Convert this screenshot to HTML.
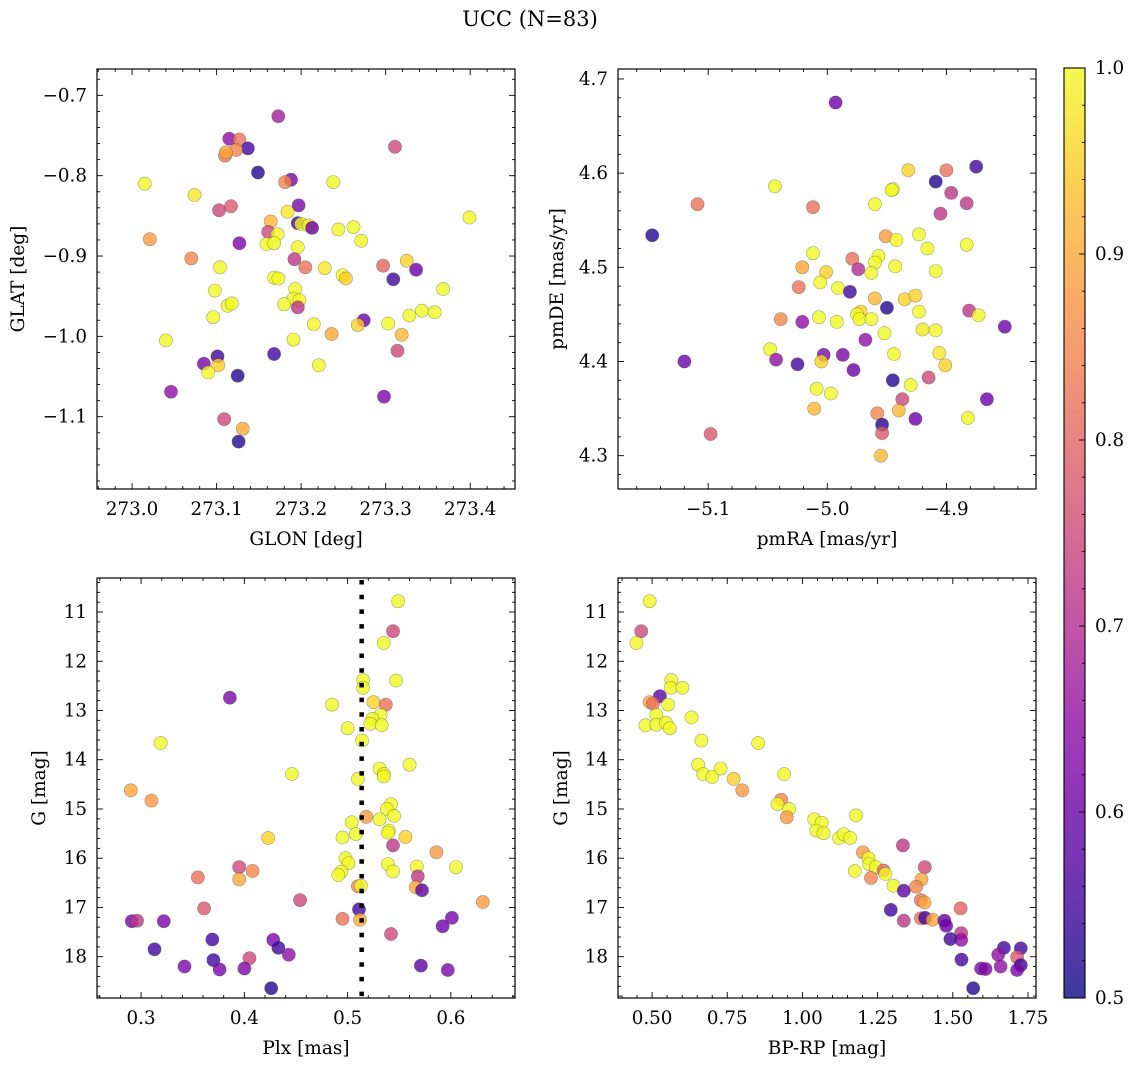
<!DOCTYPE html>
<html><head><meta charset="utf-8"><style>
html,body{margin:0;padding:0;background:#fff;}
svg text{font-family:"DejaVu Serif","Liberation Serif",serif;fill:#000;}
</style></head><body>
<svg id="fig" width="1136" height="1067" xmlns="http://www.w3.org/2000/svg">
<text x="530" y="26" font-size="21" text-anchor="middle">UCC (N=83)</text>
</svg>
<script>
// ---- Panel 1 data: GLON / GLAT / membership prob
const p1Glon=[273.173,273.115,273.127,273.137,273.123,273.110,273.111,273.311,273.149,273.015,273.188,273.181,273.238,273.074,273.197,273.103,273.117,273.184,273.399,273.164,273.196,273.200,273.209,273.213,273.244,273.262,273.161,273.172,273.271,273.159,273.168,273.196,273.127,273.021,273.070,273.192,273.205,273.104,273.228,273.297,273.325,273.336,273.249,273.253,273.168,273.173,273.309,273.368,273.098,273.193,273.191,273.198,273.196,273.180,273.113,273.118,273.096,273.328,273.343,273.358,273.215,273.274,273.267,273.303,273.236,273.319,273.040,273.191,273.314,273.168,273.101,273.085,273.102,273.090,273.221,273.125,273.046,273.298,273.109,273.131,273.126];
const p1Glat=[-0.726,-0.754,-0.755,-0.766,-0.768,-0.775,-0.771,-0.764,-0.796,-0.810,-0.805,-0.808,-0.808,-0.824,-0.837,-0.843,-0.838,-0.845,-0.852,-0.857,-0.859,-0.860,-0.862,-0.865,-0.867,-0.864,-0.870,-0.873,-0.881,-0.885,-0.884,-0.889,-0.884,-0.879,-0.903,-0.904,-0.914,-0.914,-0.915,-0.912,-0.906,-0.917,-0.924,-0.928,-0.927,-0.928,-0.929,-0.941,-0.943,-0.941,-0.953,-0.955,-0.964,-0.960,-0.962,-0.959,-0.976,-0.974,-0.968,-0.970,-0.985,-0.980,-0.986,-0.984,-0.997,-0.998,-1.005,-1.004,-1.018,-1.022,-1.025,-1.034,-1.036,-1.045,-1.036,-1.049,-1.069,-1.075,-1.103,-1.115,-1.131];
const p1Prob=[.68,.65,.82,.55,.85,.82,.9,.75,.52,1,.62,.85,1,.98,.62,.75,.78,.98,1,.92,.55,1,.98,.6,1,1,.75,1,1,1,1,1,.62,.88,.85,.72,.82,1,.98,.8,.95,.6,1,.95,1,1,.55,1,1,1,1,1,.72,1,1,1,1,1,1,1,1,.6,.95,1,.9,.92,1,1,.75,.55,.55,.62,.95,1,1,.52,.65,.62,.75,.9,.52];
// ---- Panel 2 data: pmRA / pmDE
const p2PmRA=[-4.993,-4.875,-4.900,-4.932,-4.909,-4.896,-4.883,-4.905,-4.945,-4.946,-5.044,-5.109,-5.012,-4.960,-5.147,-4.951,-4.942,-4.923,-4.916,-4.883,-5.012,-4.957,-4.960,-4.979,-5.021,-5.001,-4.974,-4.963,-4.943,-4.909,-5.006,-5.024,-4.991,-4.981,-4.960,-4.935,-4.926,-4.950,-4.923,-4.881,-4.873,-4.851,-4.972,-4.975,-4.973,-4.963,-5.007,-4.992,-5.039,-5.021,-4.952,-4.920,-4.909,-4.968,-5.048,-5.043,-5.120,-5.025,-5.003,-5.005,-4.987,-4.978,-4.944,-4.906,-4.901,-4.945,-4.930,-4.915,-5.009,-4.997,-4.937,-4.866,-5.011,-4.958,-4.940,-4.926,-4.882,-4.954,-4.954,-5.098,-4.955];
const p2PmDE=[4.675,4.607,4.603,4.603,4.591,4.579,4.568,4.557,4.583,4.582,4.586,4.567,4.564,4.567,4.534,4.533,4.529,4.535,4.520,4.524,4.515,4.512,4.505,4.509,4.500,4.495,4.498,4.494,4.501,4.496,4.484,4.479,4.478,4.474,4.467,4.466,4.470,4.457,4.453,4.454,4.449,4.437,4.453,4.450,4.445,4.445,4.447,4.442,4.445,4.442,4.430,4.434,4.433,4.423,4.413,4.402,4.400,4.397,4.407,4.400,4.407,4.391,4.408,4.409,4.396,4.380,4.375,4.383,4.371,4.366,4.360,4.360,4.350,4.345,4.348,4.339,4.340,4.333,4.324,4.323,4.300];
const p2Prob=[.6,.55,.82,.95,.52,.72,.72,.72,1,1,1,.82,.82,1,.52,.88,1,1,1,1,1,1,1,.82,.9,.95,.7,1,1,1,1,.82,1,.55,.92,.95,.95,.52,1,.72,1,.6,.95,1,1,1,1,1,.85,.65,1,.98,1,.65,1,.65,.6,.55,.62,.95,.62,.6,1,.98,.95,.52,1,.75,1,1,.75,.6,.92,.85,.92,.6,1,.52,.78,.78,.92];
// ---- Panel 3 data: Plx / G
const p3Plx=[0.549,0.544,0.535,0.515,0.515,0.547,0.386,0.485,0.525,0.537,0.532,0.524,0.522,0.533,0.500,0.514,0.319,0.560,0.531,0.535,0.535,0.446,0.510,0.290,0.310,0.542,0.538,0.545,0.531,0.518,0.504,0.540,0.539,0.556,0.508,0.495,0.423,0.544,0.586,0.498,0.501,0.539,0.544,0.567,0.605,0.395,0.408,0.395,0.355,0.494,0.491,0.568,0.566,0.572,0.510,0.513,0.631,0.454,0.361,0.511,0.495,0.512,0.291,0.296,0.322,0.601,0.592,0.542,0.369,0.428,0.433,0.443,0.313,0.370,0.405,0.342,0.376,0.400,0.571,0.597,0.426];
const p3G=[10.78,11.39,11.63,12.38,12.54,12.39,12.74,12.88,12.83,12.88,13.09,13.17,13.27,13.30,13.36,13.61,13.66,14.10,14.18,14.29,14.34,14.29,14.39,14.62,14.83,14.90,15.00,15.14,15.21,15.16,15.27,15.44,15.48,15.57,15.51,15.58,15.59,15.74,15.88,16.00,16.10,16.12,16.27,16.17,16.18,16.18,16.26,16.43,16.39,16.27,16.34,16.37,16.59,16.65,16.57,16.56,16.89,16.85,17.02,17.04,17.23,17.25,17.28,17.27,17.28,17.21,17.38,17.54,17.65,17.66,17.82,17.96,17.85,18.07,18.03,18.20,18.26,18.24,18.18,18.27,18.64];
const p3Prob=[1,.75,1,1,1,1,.62,1,.95,.82,1,1,1,1,1,1,1,1,1,1,1,1,1,.9,.88,1,1,1,1,.88,1,1,1,.95,1,1,.95,.72,.88,1,1,1,1,1,1,.75,.85,.9,.82,1,1,.72,.9,.58,.85,1,.88,.75,.78,.55,.82,.9,.62,.72,.62,.62,.6,.75,.55,.62,.55,.65,.55,.55,.75,.62,.62,.62,.58,.62,.52];
const p3PlxLine=0.5136;
// ---- Panel 4 data: BP-RP / G
const p4BpRp=[0.492,0.464,0.448,0.564,0.562,0.601,0.526,0.492,0.503,0.553,0.514,0.478,0.514,0.546,0.559,0.631,0.664,0.853,0.653,0.670,0.700,0.728,0.771,0.800,0.939,0.929,0.917,0.956,0.948,1.178,1.039,1.064,1.046,1.070,1.122,1.137,1.159,1.334,1.201,1.220,1.222,1.244,1.407,1.174,1.270,1.276,1.228,1.396,1.378,1.303,1.337,1.394,1.406,1.526,1.294,1.337,1.394,1.408,1.433,1.472,1.478,1.528,1.528,1.492,1.529,1.670,1.651,1.726,1.714,1.726,1.659,1.594,1.609,1.714,1.568];
const p4G=[10.78,11.39,11.63,12.38,12.54,12.54,12.71,12.83,12.86,12.88,13.09,13.30,13.29,13.25,13.36,13.14,13.61,13.66,14.10,14.29,14.35,14.18,14.39,14.62,14.29,14.81,14.90,15.00,15.17,15.13,15.21,15.28,15.44,15.49,15.59,15.51,15.59,15.74,15.88,16.00,16.12,16.18,16.18,16.26,16.25,16.32,16.40,16.43,16.58,16.56,16.66,16.85,16.90,17.02,17.05,17.27,17.22,17.21,17.25,17.27,17.37,17.52,17.66,17.64,18.06,17.82,17.96,17.83,18.01,18.17,18.20,18.24,18.25,18.27,18.64];
const p4Prob=[1,.75,1,1,1,1,.58,.9,.82,1,1,1,1,1,1,1,1,1,1,1,1,1,.95,.88,1,.85,1,1,.88,1,1,1,1,1,1,1,1,.72,.88,1,1,1,.75,1,.8,1,.85,.9,.85,1,.58,.82,.9,.8,.55,.72,.82,.55,.9,.6,.6,.72,.65,.55,.55,.55,.65,.55,.78,.55,.65,.62,.62,.62,.52];
// ---- ticks
const p1XTicks=[273.0,273.1,273.2,273.3,273.4];
const p1XTickLabels=["273.0","273.1","273.2","273.3","273.4"];
const p1YTicks=[-0.7,-0.8,-0.9,-1.0,-1.1];
const p1YTickLabels=["\u22120.7","\u22120.8","\u22120.9","\u22121.0","\u22121.1"];
const p2XTicks=[-5.1,-5.0,-4.9];
const p2XTickLabels=["\u22125.1","\u22125.0","\u22124.9"];
const p2YTicks=[4.3,4.4,4.5,4.6,4.7];
const p2YTickLabels=["4.3","4.4","4.5","4.6","4.7"];
const p3XTicks=[0.3,0.4,0.5,0.6];
const p3XTickLabels=["0.3","0.4","0.5","0.6"];
const gTicks=[11,12,13,14,15,16,17,18];
const gTickLabels=["11","12","13","14","15","16","17","18"];
const p4XTicks=[0.5,0.75,1.0,1.25,1.5,1.75];
const p4XTickLabels=["0.50","0.75","1.00","1.25","1.50","1.75"];
const cbTicks=[0.5,0.6,0.7,0.8,0.9,1.0];
const cbTickLabels=["0.5","0.6","0.7","0.8","0.9","1.0"];

const NS="http://www.w3.org/2000/svg";
const svg=document.getElementById('fig');
const TFS=18.3, LFS=18.5;
function mk(tag,attrs,parent){const e=document.createElementNS(NS,tag);for(const k in attrs)e.setAttribute(k,attrs[k]);(parent||svg).appendChild(e);return e;}
const PL=[[13,8,135],[65,4,157],[106,0,168],[143,13,164],[177,42,144],[204,71,120],[225,100,98],[242,132,75],[252,166,54],[252,206,37],[240,249,33]];
function plasma(t){t=Math.max(0,Math.min(1,t));const s=t*10,i=Math.min(9,Math.floor(s)),f=s-i;const a=PL[i],b=PL[i+1];return 'rgb('+[0,1,2].map(k=>Math.round(a[k]+(b[k]-a[k])*f)).join(',')+')';}
const CMIN=0.5,CMAX=1.0;

function panel(o){
  const g=mk('g',{});
  
  
  const sx=v=>o.x0+(v-o.xd[0])/(o.xd[1]-o.xd[0])*(o.x1-o.x0);
  const sy=v=>o.y0+(v-o.yd[0])/(o.yd[1]-o.yd[0])*(o.y1-o.y0);
  const pg=mk('g',{},g);
  
  
  for(let i=0;i<o.xs.length;i++){
    const c=mk('circle',{cx:sx(o.xs[i]).toFixed(1),cy:sy(o.ys[i]).toFixed(1),r:6.6,fill:plasma((o.cs[i]-CMIN)/(CMAX-CMIN)),'fill-opacity':0.8,stroke:'rgba(60,60,60,0.45)','stroke-width':0.6},pg);
    
    
  }
  if(o.vline!==undefined){
    const l=mk('line',{x1:sx(o.vline),x2:sx(o.vline),y1:o.y0+2,y2:o.y1,stroke:'#000','stroke-width':4.5,'stroke-dasharray':'4.5 10.2'},g);
    
    
  }
  const fr=mk('rect',{x:o.x0,y:o.y0,width:o.x1-o.x0,height:o.y1-o.y0,fill:'none',stroke:'#000','stroke-width':1.2},g);
  
  
  const tg=mk('g',{stroke:'#000','stroke-width':0.9},g);
  
  
  const xlo=Math.min(...o.xd),xhi=Math.max(...o.xd),ylo=Math.min(...o.yd),yhi=Math.max(...o.yd);
  const base=o.xTicks[0];
  for(let k=-200;k<=200;k++){const v=base+k*o.xMinor;if(v<xlo||v>xhi)continue;const r=(k*o.xMinor)/o.xMajorStep;const maj=Math.abs(r-Math.round(r))<1e-6;const L=maj?6:3;const X=sx(v);
    mk('line',{x1:X,x2:X,y1:o.y1,y2:o.y1-L},tg);mk('line',{x1:X,x2:X,y1:o.y0,y2:o.y0+L},tg);}
  const ybase=o.yTicks[0];
  for(let k=-200;k<=200;k++){const v=ybase+k*o.yMinor;if(v<ylo||v>yhi)continue;const r=(k*o.yMinor)/o.yMajorStep;const maj=Math.abs(r-Math.round(r))<1e-6;const L=maj?6:3;const Y=sy(v);
    mk('line',{x1:o.x0,x2:o.x0+L,y1:Y,y2:Y},tg);mk('line',{x1:o.x1,x2:o.x1-L,y1:Y,y2:Y},tg);}
  o.xTicks.forEach((v,i)=>{const t=mk('text',{x:sx(v),y:o.y1+26,'font-size':TFS,'text-anchor':'middle'},g);t.textContent=o.xTickLabels[i];
    });
  o.yTicks.forEach((v,i)=>{const t=mk('text',{x:o.x0-10,y:sy(v)+6,'font-size':TFS,'text-anchor':'end'},g);t.textContent=o.yTickLabels[i];
    });
  const xl=mk('text',{x:(o.x0+o.x1)/2,y:o.y1+56,'font-size':LFS,'text-anchor':'middle'},g);xl.textContent=o.xlabel;
  
  const yl=mk('text',{x:0,y:0,'font-size':LFS,'text-anchor':'middle',transform:'translate('+o.ylx+','+((o.y0+o.y1)/2)+') rotate(-90)'},g);yl.textContent=o.ylabel;
  
}

panel({name:'glon-glat-panel',x0:97,x1:515,y0:69,y1:489,xd:[272.9585,273.453],yd:[-0.6672,-1.190],xs:p1Glon,ys:p1Glat,cs:p1Prob,
  xTicks:p1XTicks,xTickLabels:p1XTickLabels,yTicks:p1YTicks,yTickLabels:p1YTickLabels,xMinor:0.02,xMajorStep:0.1,yMinor:0.02,yMajorStep:0.1,
  xlabel:'GLON [deg]',ylabel:'GLAT [deg]',ylx:24});
panel({name:'proper-motion-panel',x0:618,x1:1036,y0:69,y1:489,xd:[-5.1757,-4.8248],yd:[4.7106,4.2646],xs:p2PmRA,ys:p2PmDE,cs:p2Prob,
  xTicks:p2XTicks,xTickLabels:p2XTickLabels,yTicks:p2YTicks,yTickLabels:p2YTickLabels,xMinor:0.02,xMajorStep:0.1,yMinor:0.02,yMajorStep:0.1,
  xlabel:'pmRA [mas/yr]',ylabel:'pmDE [mas/yr]',ylx:563});
panel({name:'parallax-mag-panel',x0:97,x1:515,y0:578,y1:998,xd:[0.2573,0.6621],yd:[10.309,18.839],xs:p3Plx,ys:p3G,cs:p3Prob,vline:p3PlxLine,
  xTicks:p3XTicks,xTickLabels:p3XTickLabels,yTicks:gTicks,yTickLabels:gTickLabels,xMinor:0.02,xMajorStep:0.1,yMinor:0.2,yMajorStep:1,
  xlabel:'Plx [mas]',ylabel:'G [mag]',ylx:45});
panel({name:'cmd-panel',x0:618,x1:1036,y0:578,y1:998,xd:[0.3867,1.7767],yd:[10.309,18.839],xs:p4BpRp,ys:p4G,cs:p4Prob,
  xTicks:p4XTicks,xTickLabels:p4XTickLabels,yTicks:gTicks,yTickLabels:gTickLabels,xMinor:0.05,xMajorStep:0.25,yMinor:0.2,yMajorStep:1,
  xlabel:'BP-RP [mag]',ylabel:'G [mag]',ylx:567});

(function(){
  const cx0=1064,cx1=1085,cy0=68,cy1=998;
  const g=mk('g',{});
  
  
  const defs=mk('defs',{},g);
  const lg=mk('linearGradient',{id:'cbg',x1:0,y1:1,x2:0,y2:0},defs);
  for(let i=0;i<=20;i++){mk('stop',{offset:(i/20),'stop-color':plasma(i/20)},lg);}
  mk('rect',{x:cx0,y:cy0,width:cx1-cx0,height:cy1-cy0,fill:'url(#cbg)','fill-opacity':0.8},g);
  mk('rect',{x:cx0,y:cy0,width:cx1-cx0,height:cy1-cy0,fill:'none',stroke:'#000','stroke-width':1.1},g);
  const sy=v=>cy1-(v-CMIN)/(CMAX-CMIN)*(cy1-cy0);
  for(let k=0;k<=25;k++){const v=CMIN+k*0.02;const maj=k%5===0;const Y=sy(v);mk('line',{x1:cx1,x2:cx1-(maj?6:3),y1:Y,y2:Y,stroke:'#000','stroke-width':0.9},g);}
  cbTicks.forEach((v,i)=>{const t=mk('text',{x:cx1+10,y:sy(v)+6,'font-size':TFS},g);t.textContent=cbTickLabels[i];
    });
})();
</script>
</body></html>
